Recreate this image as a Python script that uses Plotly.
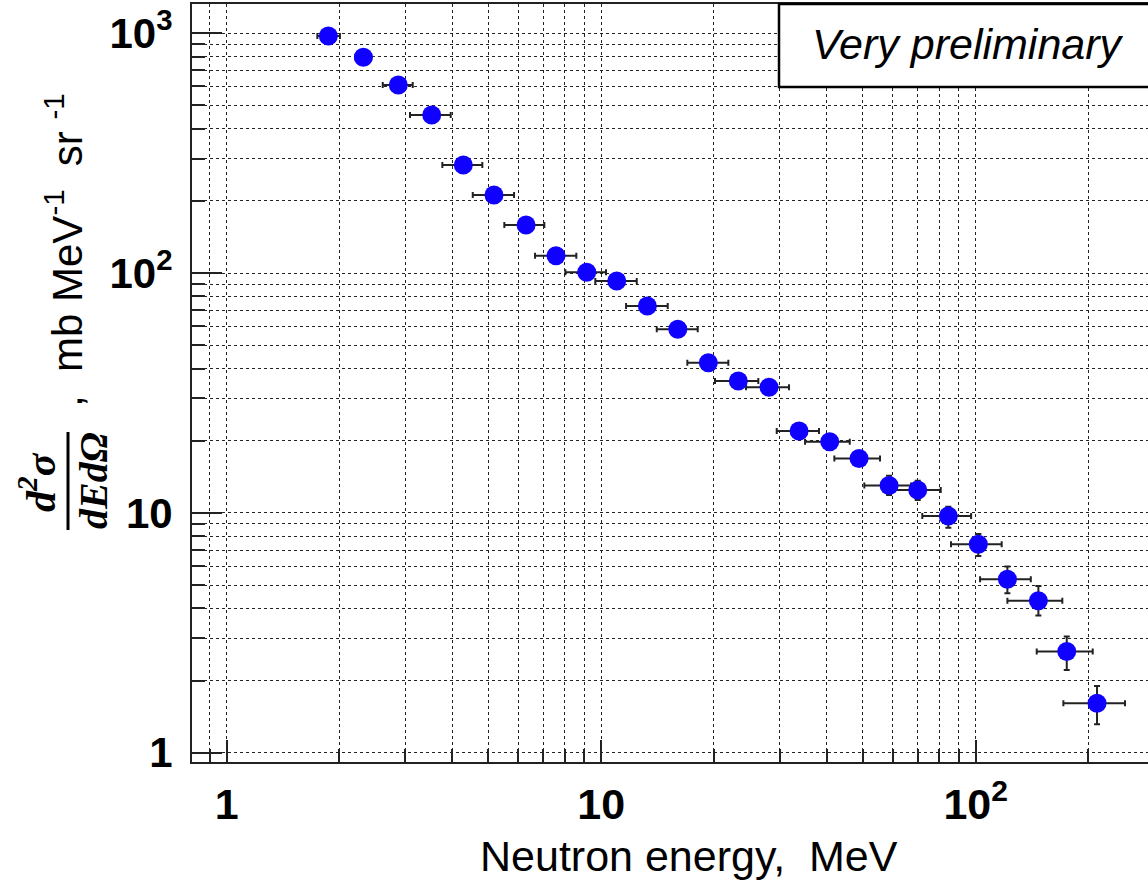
import plotly.graph_objects as go

# ---------------- data ----------------
energy = [1.868, 2.317, 2.872, 3.527, 4.283, 5.172, 6.30, 7.573, 9.148, 11.0,
          13.28, 16.01, 19.32, 23.23, 28.06, 33.75, 40.75, 48.8, 58.7, 70.0,
          84.5, 101.6, 121.5, 147.0, 175.0, 210.8]
e_low = [1.746, 2.205, 2.610, 3.086, 3.765, 4.539, 5.512, 6.657, 8.021, 9.643,
         11.65, 14.07, 16.98, 20.13, 24.36, 29.42, 35.02, 41.93, 50.41, 60.26,
         72.0, 85.9, 102.7, 121.5, 145.5, 171.4]
e_high = [2.006, 2.433, 3.138, 3.964, 4.814, 5.851, 7.048, 8.581, 10.30, 12.44,
          15.05, 18.10, 21.85, 26.27, 31.73, 38.15, 46.09, 55.52, 67.18, 80.64,
          97.2, 117.3, 140.3, 170.3, 205.3, 250.4]
xsec = [974, 794, 609, 456, 282, 211.7, 158.7, 118.2, 100.8, 92.7,
        72.9, 58.3, 42.3, 35.5, 33.4, 21.95, 19.8, 16.86, 13.01, 12.46,
        9.71, 7.40, 5.29, 4.30, 2.64, 1.607]
xsec_low = [930, 758, 581, 435, 269, 202, 151, 113, 96, 88.5,
            69.5, 55.6, 40.2, 33.7, 31.7, 20.8, 18.7, 15.8, 11.88, 11.32,
            8.68, 6.61, 4.62, 3.73, 2.21, 1.313]
xsec_high = [1020, 832, 638, 478, 296, 222, 166, 124, 106, 97,
             76.5, 61.2, 44.5, 37.4, 35.2, 23.2, 21.0, 18.0, 14.29, 13.62,
             10.61, 8.17, 5.97, 4.96, 3.05, 1.897]

x_tickvals = [1, 10, 100]
x_ticktext = ["1", "10", "10<sup>2</sup>"]
y_tickvals = [1, 10, 100, 1000]
y_ticktext = ["1", "10", "10<sup>2</sup>", "10<sup>3</sup>"]

x_title = "Neutron energy,\u00a0 MeV"
y_title_num = "<b><i>d<sup>2</sup>σ</i></b>"
y_title_den = "<b><i>dEdΩ</i></b>"
y_title_units = ",\u00a0\u00a0mb MeV<sup>-1</sup>\u00a0\u00a0sr <sup>-1</sup>"
label_text = "Very preliminary"

# ---------------- figure ----------------
W, H = 1148, 880
L, R, T, B = 192, 0, 4, 118
PW, PH = W - L - R, H - T - B


def px(xp):
    return (xp - L) / PW


def py(yp):
    return (H - B - yp) / PH


err_plus_x = [h - e for h, e in zip(e_high, energy)]
err_minus_x = [e - l for l, e in zip(e_low, energy)]
err_plus_y = [h - v for h, v in zip(xsec_high, xsec)]
err_minus_y = [v - l for l, v in zip(xsec_low, xsec)]

fig = go.Figure()
fig.add_trace(go.Scatter(
    x=energy, y=xsec, mode="markers",
    marker=dict(color="rgb(15,0,255)", size=19, line=dict(width=0)),
    error_x=dict(type="data", symmetric=False, array=err_plus_x,
                 arrayminus=err_minus_x, color="#222", thickness=2, width=3),
    error_y=dict(type="data", symmetric=False, array=err_plus_y,
                 arrayminus=err_minus_y, color="#222", thickness=2, width=3),
    showlegend=False,
))

axis_common = dict(
    type="log",
    showline=True, linecolor="#222", linewidth=2,
    ticks="inside", tickcolor="#222", tickwidth=2,
    showgrid=True, gridcolor="#222", gridwidth=1, griddash="dot",
    zeroline=False,
    tickmode="array",
)

minor_common = dict(dtick="D1", ticks="inside", ticklen=13, tickwidth=1.5,
                    tickcolor="#222", showgrid=True, gridcolor="#222",
                    gridwidth=1, griddash="dot")

fig.update_layout(
    width=W, height=H, autosize=False,
    margin=dict(l=L, r=R, t=T, b=B, pad=0),
    paper_bgcolor="white", plot_bgcolor="white",
    font=dict(family="Liberation Sans", color="black"),
    xaxis=dict(
        **axis_common,
        range=[-0.0927, 2.4600],
        tickvals=x_tickvals, ticktext=x_ticktext,
        tickfont=dict(family="Liberation Sans", size=43, color="black", weight="bold"),
        ticklen=22, mirror=True, ticklabelstandoff=3,
        minor=minor_common,
    ),
    yaxis=dict(
        **axis_common,
        range=[-0.0388, 3.1220],
        tickvals=y_tickvals, ticktext=y_ticktext,
        tickfont=dict(family="Liberation Sans", size=42, color="black", weight="bold"),
        ticklen=30, mirror=False, ticklabelstandoff=9,
        minor=minor_common,
    ),
)

# "Very preliminary" box
fig.add_shape(type="rect", xref="paper", yref="paper",
              x0=px(779), x1=1.05, y0=py(87), y1=py(4),
              line=dict(color="black", width=2.5), fillcolor="white", layer="above")
fig.add_annotation(xref="paper", yref="paper", x=px(968), y=py(44),
                   xanchor="center", yanchor="middle", showarrow=False,
                   text=f"<i>{label_text}</i>",
                   font=dict(family="Liberation Sans", size=43, color="black"))

# x-axis title
fig.add_annotation(xref="paper", yref="paper", x=px(689), y=py(856),
                   xanchor="center", yanchor="middle", showarrow=False,
                   text=x_title,
                   font=dict(family="Liberation Sans", size=43, color="black"))

# y-axis title: fraction + units
fig.add_annotation(xref="paper", yref="paper", x=px(37), y=py(482),
                   xanchor="center", yanchor="middle", showarrow=False,
                   textangle=-90, text=y_title_num,
                   font=dict(family="Liberation Serif", size=42, color="black"))
fig.add_annotation(xref="paper", yref="paper", x=px(94), y=py(481),
                   xanchor="center", yanchor="middle", showarrow=False,
                   textangle=-90, text=y_title_den,
                   font=dict(family="Liberation Serif", size=40, color="black"))
fig.add_shape(type="line", xref="paper", yref="paper",
              x0=px(68), x1=px(68), y0=py(432), y1=py(530),
              line=dict(color="black", width=3))
fig.add_annotation(xref="paper", yref="paper", x=px(64), y=py(250),
                   xanchor="center", yanchor="middle", showarrow=False,
                   textangle=-90, text=y_title_units,
                   font=dict(family="Liberation Sans", size=42, color="black"))

fig.write_html("out.html")
